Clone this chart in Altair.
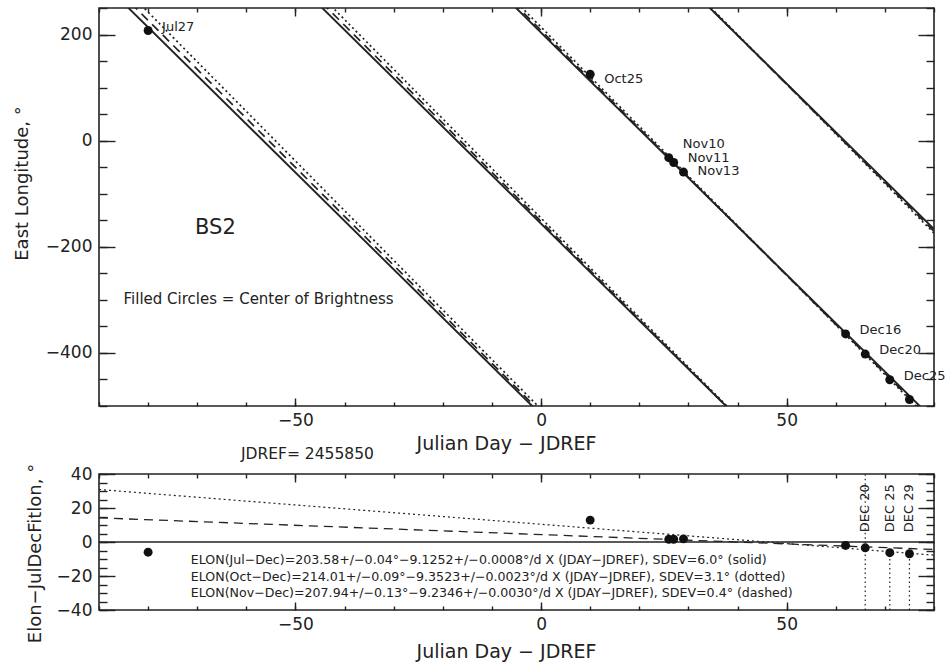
import altair as alt
import pandas as pd

# Observations: days after JDREF and east longitude of the centre of brightness
obs_label = ["Jul27", "Oct25", "Nov10", "Nov11", "Nov13", "Dec16", "Dec20", "Dec25", "Dec29"]
obs_day = [-80, 10, 26, 27, 29, 62, 66, 71, 75]
obs_elon = [207.6, 125.2, -32.1, -41.2, -59.2, -364.2, -402.1, -450.6, -487.7]

# Linear fits  ELON = a + b * (JDAY - JDREF)
fit_range = ["Jul-Dec", "Oct-Dec", "Nov-Dec"]
fit_a = [203.58, 214.01, 207.94]
fit_a_err = ["0.04", "0.09", "0.13"]
fit_b = [-9.1252, -9.3523, -9.2346]
fit_b_err = ["0.0008", "0.0023", "0.0030"]
fit_sdev = ["6.0", "3.1", "0.4"]
fit_style = ["solid", "dotted", "dashed"]

# Dates flagged in the residual panel
dec_marks = ["Dec20", "Dec25", "Dec29"]
JDREF = 2455850

X_DOM = [-90, 80]
Y_TOP = [-500, 250]
Y_BOT = [-40, 40]
WRAPS = [-2, -1, 0, 1]          # 360-degree copies of each fit shown in the longitude panel

INK = "#222222"
FONT = "DejaVu Sans"
DASH = {"dotted": [2, 3], "dashed": [9, 6]}

# ---------------------------------------------------------------- tables
obs = pd.DataFrame({"label": obs_label, "day": obs_day, "elon": obs_elon})
base = fit_a[0] + fit_b[0] * obs["day"]
obs["resid"] = ((obs["elon"] - base + 180) % 360) - 180
obs["lo"] = Y_BOT[0]
obs["hi"] = Y_BOT[1]

top_rows, bot_rows = [], []
for name, a, b, style in zip(fit_range, fit_a, fit_b, fit_style):
    for k in WRAPS:
        for x in X_DOM:
            top_rows.append({"seg": f"{name}{k}", "style": style, "x": x, "y": a + b * x + 360 * k})
    for x in X_DOM:
        bot_rows.append({"seg": name, "style": style, "x": x,
                         "y": (a - fit_a[0]) + (b - fit_b[0]) * x})
top_lines = pd.DataFrame(top_rows)
bot_lines = pd.DataFrame(bot_rows)

formula = [
    f"ELON({r.replace('-', '−')})={a:.2f}+/−{ae}°−{abs(b):.4f}+/−{be}°/d X (JDAY−JDREF), SDEV={sd}° ({st})"
    for r, a, ae, b, be, sd, st in zip(fit_range, fit_a, fit_a_err, fit_b, fit_b_err, fit_sdev, fit_style)
]

xs = alt.Scale(domain=X_DOM, nice=False, zero=False)
ys_top = alt.Scale(domain=Y_TOP, nice=False, zero=False)
ys_bot = alt.Scale(domain=Y_BOT, nice=False, zero=False)


def X(field, scale=xs):
    return alt.X(field, type="quantitative", scale=scale, axis=None)


def Y(field, scale):
    return alt.Y(field, type="quantitative", scale=scale, axis=None)


def fit_lines(df, ys, widths):
    layers = []
    for style in ["solid", "dashed", "dotted"]:
        kw = {"strokeWidth": widths[style], "color": INK, "clip": True}
        if style in DASH:
            kw["strokeDash"] = DASH[style]
        layers.append(
            alt.Chart(df).transform_filter(alt.datum.style == style)
            .mark_line(**kw).encode(x=X("x"), y=Y("y", ys), detail="seg:N")
        )
    return layers


def frame_axes(ys, y_major, y_minor, y_title, title_y, y_title_pad, x_title_pad):
    """Inward-pointing ticks on all four sides, drawn as four independent axes."""
    common = dict(domain=False, grid=False, tickColor=INK, tickWidth=1.4,
                  labelColor=INK, labelFont=FONT, labelFontSize=17, labelFlush=False,
                  titleColor=INK, titleFont=FONT, titleFontWeight="normal")
    x_major = [-50, 0, 50]
    x_minor = list(range(X_DOM[0], X_DOM[1] + 1, 10))
    specs = [
        (alt.Axis(orient="bottom", values=x_major, tickSize=8, offset=-8, labelPadding=6,
                  title="Julian Day  −  JDREF", titlePadding=x_title_pad, titleX=407,
                  titleFontSize=19, **common),
         alt.Axis(orient="left", values=y_major, tickSize=16, offset=-16, labelPadding=7,
                  title=y_title, titlePadding=y_title_pad, titleY=title_y, titleFontSize=18, **common)),
        (alt.Axis(orient="bottom", values=x_minor, tickSize=4, offset=-4, labels=False, title=None, **common),
         alt.Axis(orient="left", values=y_minor, tickSize=8, offset=-8, labels=False, title=None, **common)),
        (alt.Axis(orient="top", values=x_major, tickSize=8, offset=-8, labels=False, title=None, **common),
         alt.Axis(orient="right", values=y_major, tickSize=16, offset=-16, labels=False, title=None, **common)),
        (alt.Axis(orient="top", values=x_minor, tickSize=4, offset=-4, labels=False, title=None, **common),
         alt.Axis(orient="right", values=y_minor, tickSize=8, offset=-8, labels=False, title=None, **common)),
    ]
    dummy = pd.DataFrame({"x": [X_DOM[0]], "y": [ys.domain[0]]})
    return [
        alt.Chart(dummy).mark_point(opacity=0).encode(
            x=alt.X("x:Q", scale=xs, axis=ax), y=alt.Y("y:Q", scale=ys, axis=ay))
        for ax, ay in specs
    ]


# ---------------------------------------------------------------- longitude panel
top_layers = fit_lines(top_lines, ys_top, {"solid": 1.9, "dashed": 1.7, "dotted": 1.7})

top_layers.append(
    alt.Chart(obs).mark_circle(size=80, color="#111111", opacity=1)
    .encode(x=X("day"), y=Y("elon", ys_top))
)

label_dy = {"Oct25": 5, "Nov10": -14, "Nov11": -5, "Nov13": -1}
for name in obs_label[:-1]:
    top_layers.append(
        alt.Chart(obs).transform_filter(alt.datum.label == name)
        .mark_text(align="left", baseline="middle", dx=14, dy=label_dy.get(name, -4),
                   font=FONT, fontSize=13, color=INK)
        .encode(x=X("day"), y=Y("elon", ys_top), text="label:N")
    )

notes_top = pd.DataFrame({
    "x": [-66.3, -85, -61.1],
    "y": [-164, -298, -591],
    "text": ["BS2", "Filled Circles = Center of Brightness", f"JDREF= {JDREF}"],
    "size": [21, 15, 15.5],
    "align": ["center", "left", "left"],
})
for i in range(len(notes_top)):
    row = notes_top.iloc[[i]]
    top_layers.append(
        alt.Chart(row).mark_text(align=row["align"].iloc[0], baseline="middle", font=FONT,
                                 fontSize=float(row["size"].iloc[0]), color=INK)
        .encode(x=X("x"), y=Y("y", ys_top), text="text:N")
    )

top_layers += frame_axes(ys_top, [-400, -200, 0, 200], list(range(-500, 251, 50)),
                         "East Longitude, °", 175, 14, 6)

top = alt.layer(*top_layers).properties(width=835, height=398).resolve_axis(x="independent", y="independent")

# ---------------------------------------------------------------- residual panel
bot_layers = fit_lines(bot_lines, ys_bot, {"solid": 1.3, "dashed": 1.3, "dotted": 1.2})

decs = obs[obs["label"].isin(dec_marks)]
bot_layers.append(
    alt.Chart(decs).mark_rule(strokeDash=[1.5, 3], strokeWidth=1.2, color=INK)
    .encode(x=X("day"), y=Y("lo", ys_bot), y2="resid:Q")
)
bot_layers.append(
    alt.Chart(decs).transform_filter(alt.datum.label == dec_marks[0])
    .mark_rule(strokeDash=[1.5, 3], strokeWidth=1.2, color=INK)
    .encode(x=X("day"), y=Y("resid", ys_bot), y2="hi:Q")
)
bot_layers.append(
    alt.Chart(obs).mark_circle(size=80, color="#111111", opacity=1)
    .encode(x=X("day"), y=Y("resid", ys_bot))
)
bot_layers.append(
    alt.Chart(decs).transform_calculate(
        tag="'DEC ' + substring(datum.label, 3)", ytop="34"
    ).mark_text(angle=270, align="right", baseline="middle", font=FONT, fontSize=13, color=INK)
    .encode(x=X("day"), y=Y("ytop", ys_bot), text="tag:N")
)
formula_df = pd.DataFrame({"x": [-71.3], "y": [-7.3]})
bot_layers.append(
    alt.Chart(formula_df).mark_text(text=formula, align="left", baseline="top", lineHeight=16.5,
                                    font=FONT, fontSize=12.6, color=INK)
    .encode(x=X("x"), y=Y("y", ys_bot))
)
bot_layers += frame_axes(ys_bot, [-40, -20, 0, 20, 40], list(range(-40, 41, 5)),
                         "Elon−JulDecFitlon, °", 79, 12, 10)

bottom = alt.layer(*bot_layers).properties(width=835, height=136).resolve_axis(x="independent", y="independent")

chart = (
    alt.vconcat(top, bottom, spacing=68, bounds="flush")
    .properties(padding={"left": 12, "top": 6, "right": 0, "bottom": 0}, background="white")
    .configure_view(stroke=INK, strokeWidth=1.6)
)

chart.save("out.html", embed_options={"renderer": "svg", "actions": False})
